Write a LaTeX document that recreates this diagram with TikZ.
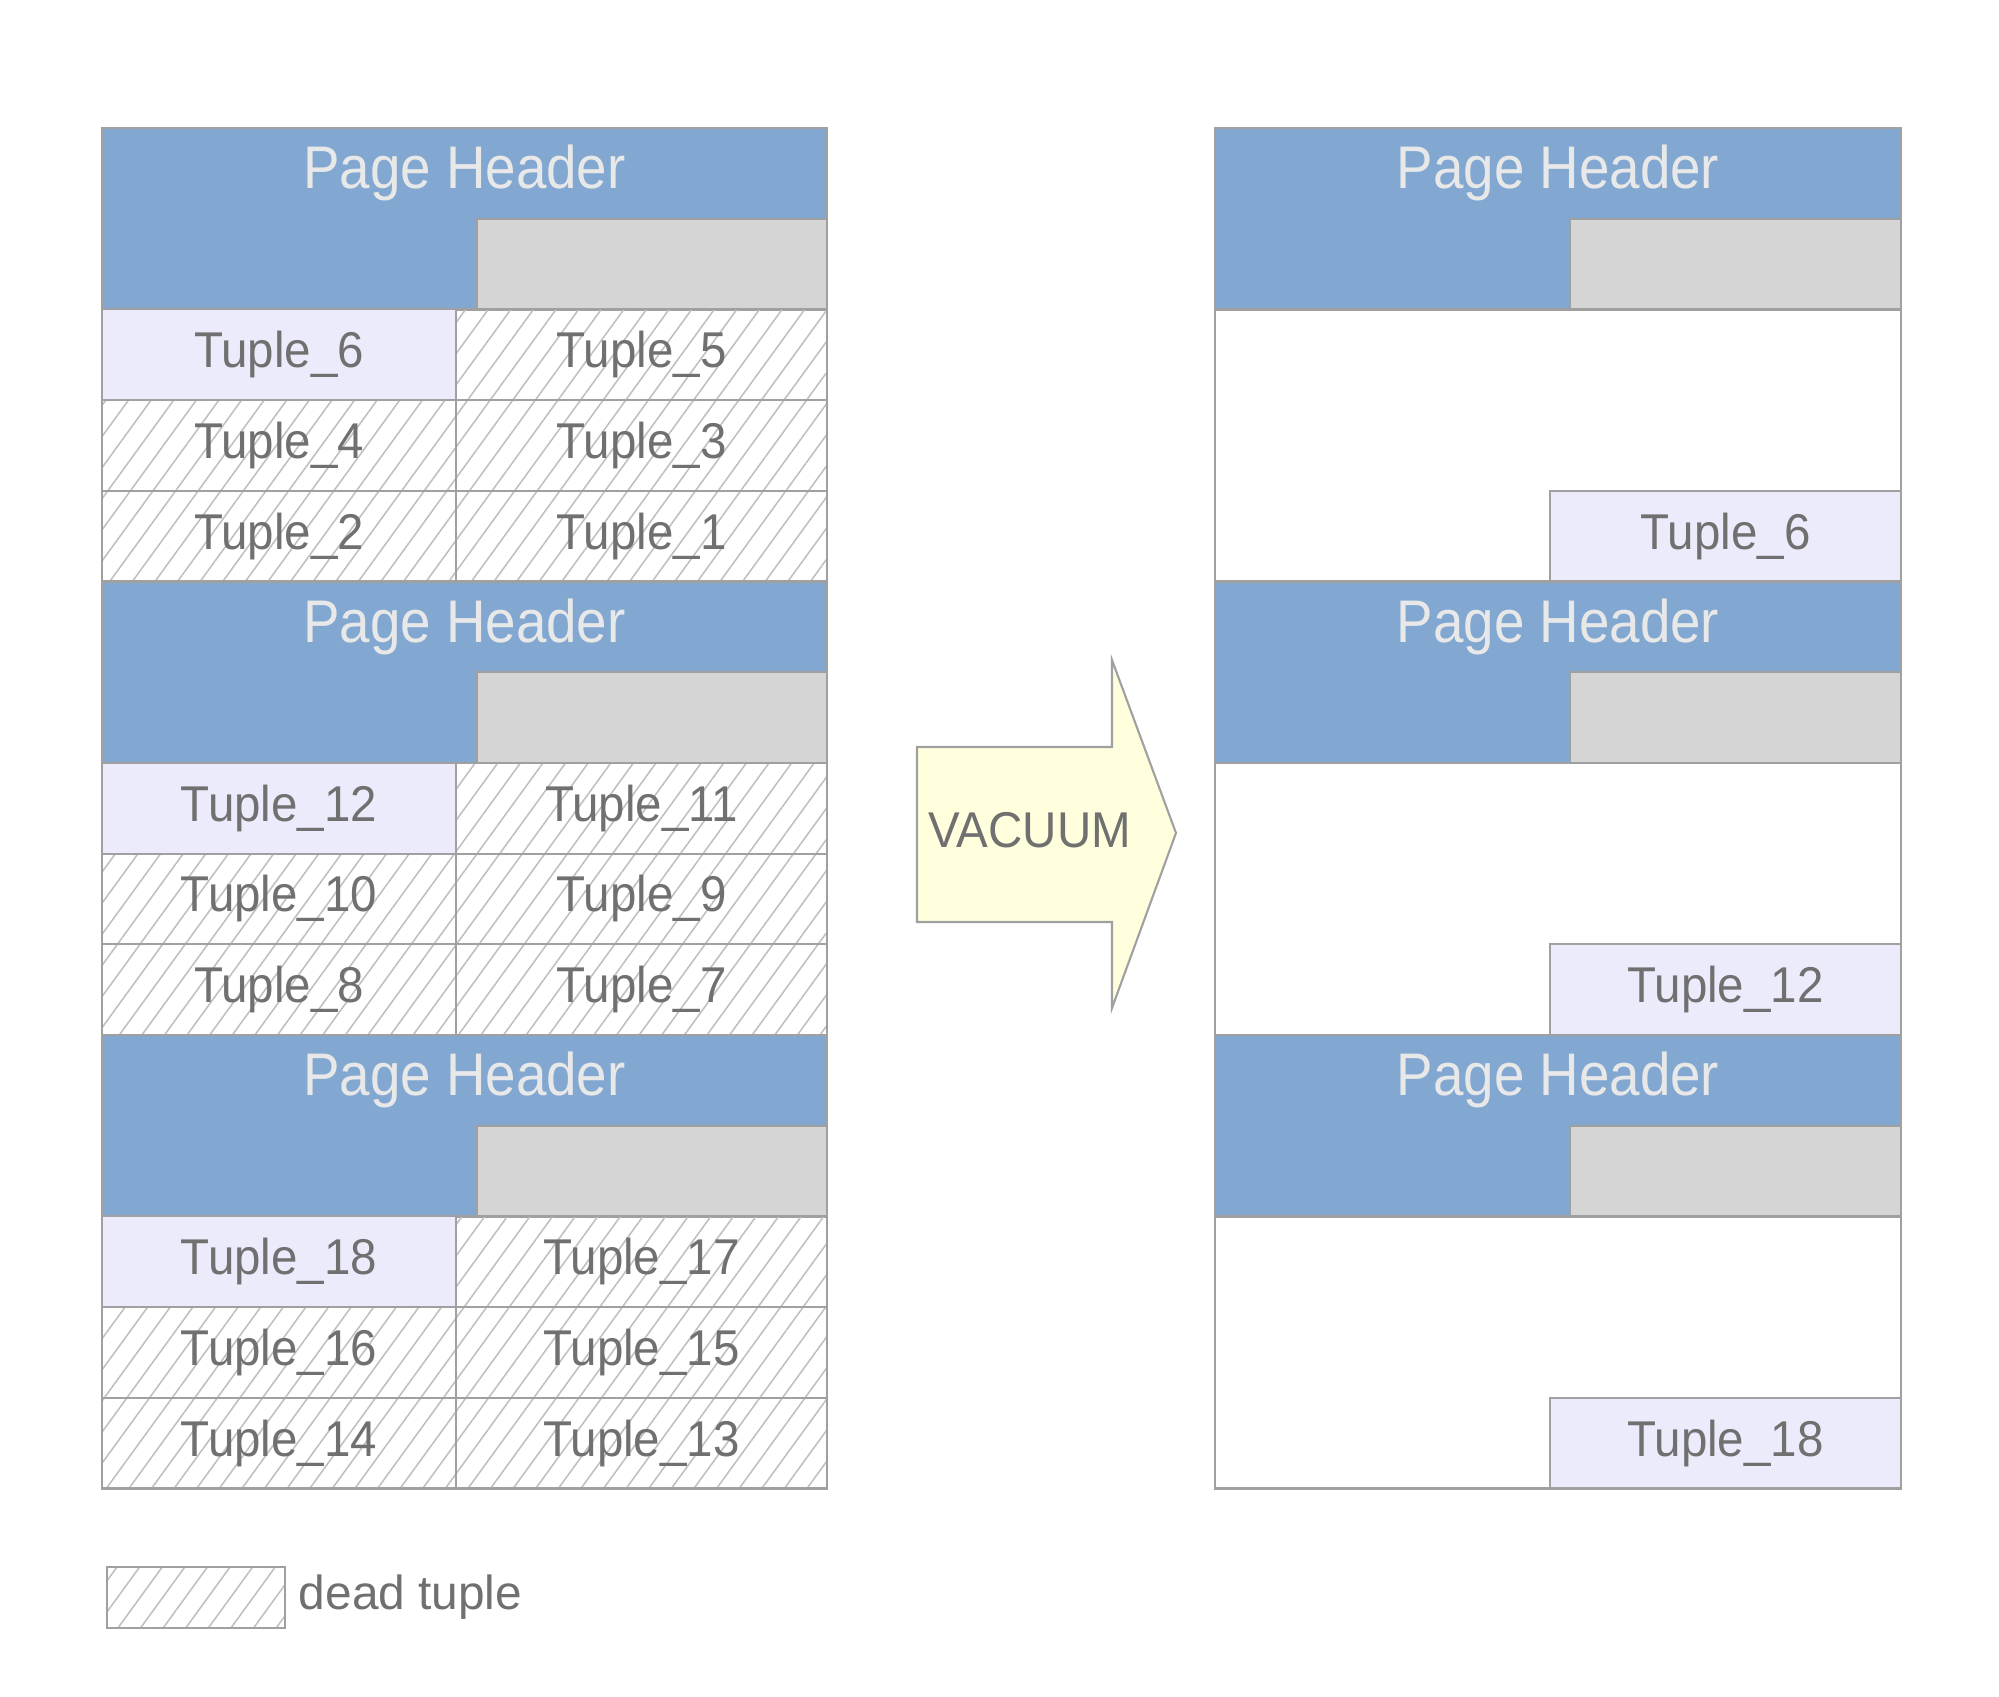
\documentclass[tikz,border=0pt]{standalone}
\usepackage{fontspec}
\setmainfont{Liberation Sans}
\newfontfamily\headfont[FakeStretch=0.91]{Liberation Sans}
\newfontfamily\tuplefont[FakeStretch=0.945]{Liberation Sans}
\usetikzlibrary{patterns.meta,positioning}
\definecolor{headblue}{RGB}{130,168,210}
\definecolor{freegray}{RGB}{213,213,213}
\definecolor{livelilac}{RGB}{235,235,252}
\definecolor{edgegray}{RGB}{160,160,160}
\definecolor{textgray}{RGB}{112,112,112}
\definecolor{hatchgray}{RGB}{192,192,192}
\definecolor{headwhite}{RGB}{232,232,232}
\definecolor{vacyellow}{RGB}{255,255,222}

\begin{document}
\begin{tikzpicture}[
    x=0.01cm, y=-0.01cm,
    cell/.style={rectangle, draw=edgegray, line width=0.6pt, inner sep=0pt, minimum height=0.907cm, text=textgray, font=\tuplefont\fontsize{14.3}{17}\selectfont},
    live/.style={cell, fill=livelilac},
    dead/.style={cell, pattern={Lines[angle=54, distance=5.2pt, line width=0.45pt]}, pattern color=hatchgray},
    headbox/.style={rectangle, draw=edgegray, line width=0.6pt, fill=headblue, inner sep=0pt, minimum height=1.814cm},
    freebox/.style={rectangle, draw=edgegray, line width=0.6pt, fill=freegray, inner sep=0pt, minimum height=0.907cm},
    headlabel/.style={inner sep=0pt, text=headwhite, font=\headfont\fontsize{17.1}{20}\selectfont},
    pageframe/.style={draw=edgegray, line width=0.6pt, fill=white}
]
\useasboundingbox (0,0) rectangle (1999,1697);

\foreach \p in {0,1,2} {
    \pgfmathsetmacro\T{128+453.5*\p}
    % pages before vacuum
    \node[headbox, minimum width=7.25cm] (lhead\p) at (464.5,\T+90.7) {};
    \node[freebox, minimum width=3.50cm] (lfree\p) at (652,\T+136.05) {};
    \node[headlabel] (ltitle\p) at (464.5,\T+45.35) {Page Header};
    \foreach \r/\kind in {0/live,1/dead,2/dead} {
        \pgfmathtruncatemacro\a{6+6*\p-2*\r}
        \pgfmathtruncatemacro\b{5+6*\p-2*\r}
        \node[\kind, minimum width=3.54cm] (tup\a) at (279,\T+226.75+90.7*\r) {Tuple\_\a};
        \node[dead, minimum width=3.71cm] (tup\b) at (641.5,\T+226.75+90.7*\r) {Tuple\_\b};
    }
    % pages after vacuum
    \pgfmathtruncatemacro\a{6+6*\p}
    \draw[pageframe] (1215,\T) rectangle (1901,\T+453.5);
    \node[headbox, minimum width=6.86cm] (rhead\p) at (1558,\T+90.7) {};
    \node[freebox, minimum width=3.31cm] (rfree\p) at (1735.5,\T+136.05) {};
    \node[headlabel] (rtitle\p) at (1558,\T+45.35) {Page Header};
    \node[live, minimum width=3.51cm] (kept\a) at (1725.5,\T+408.15) {Tuple\_\a};
}

% the big arrow
\draw[draw=edgegray, line width=0.6pt, fill=vacyellow]
    (917,747) -- (1112,747) -- (1112,660) -- (1176,833) -- (1112,1008) -- (1112,922) -- (917,922) -- cycle;
\node[text=textgray, font=\tuplefont\fontsize{14.3}{17}\selectfont, anchor=base] (vacuum) at (1030,847) {VACUUM};

% legend
\node[dead, minimum width=1.78cm, minimum height=0.61cm] (legend) at (196,1597.5) {};
\node[right=0.12cm of legend, inner sep=0pt, text=textgray, font=\fontsize{13.6}{16}\selectfont] (legendtext) {dead tuple};
\end{tikzpicture}
\end{document}
